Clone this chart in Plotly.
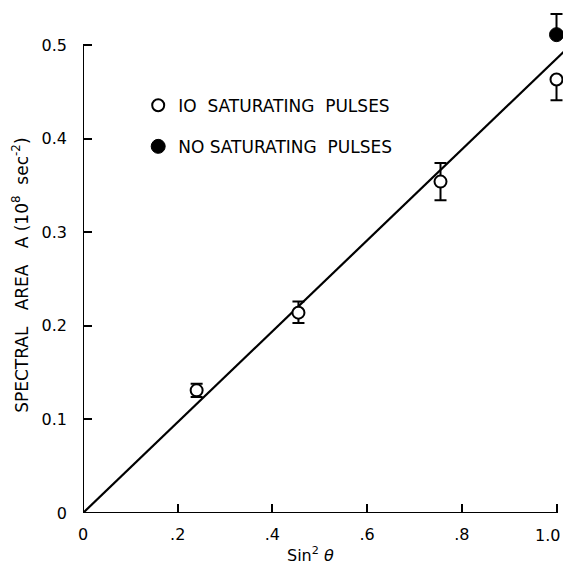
import plotly.graph_objects as go

# Spectral area vs sin^2(theta)
sin2_theta = [0.24, 0.455, 0.755, 1.0]
area_10_pulses = [0.131, 0.214, 0.354, 0.463]
err_10_plus = [0.007, 0.012, 0.020, 0.0]
err_10_minus = [0.007, 0.011, 0.020, 0.022]

sin2_no_pulses = [1.0]
area_no_pulses = [0.511]
err_no_plus = [0.022]
err_no_minus = [0.0]

# straight-line fit through the origin
fit_x = [0.0, 1.02]
fit_y = [0.0, 0.495]

x_ticks = [0, 0.2, 0.4, 0.6, 0.8, 1.0]
x_tick_labels = ["0", ".2", ".4", ".6", ".8", "1.0"]
y_ticks = [0, 0.1, 0.2, 0.3, 0.4, 0.5]
y_tick_labels = ["0", "0.1", "0.2", "0.3", "0.4", "0.5"]

FONT = "DejaVu Sans"
INK = "black"

fig = go.Figure()

fig.add_trace(go.Scatter(
    x=fit_x, y=fit_y, mode="lines",
    line=dict(color=INK, width=2.2), showlegend=False, hoverinfo="skip",
))

fig.add_trace(go.Scatter(
    x=sin2_theta, y=area_10_pulses, mode="markers",
    name="IO  SATURATING  PULSES", legendgroup="a",
    marker=dict(symbol="circle", size=12, color="white",
                line=dict(color=INK, width=2)),
    error_y=dict(type="data", symmetric=False, array=err_10_plus,
                 arrayminus=err_10_minus, color=INK, thickness=2, width=6),
))

fig.add_trace(go.Scatter(
    x=sin2_no_pulses, y=area_no_pulses, mode="markers",
    name="NO SATURATING  PULSES", legendgroup="b",
    marker=dict(symbol="circle", size=14, color=INK,
                line=dict(color=INK, width=1)),
    error_y=dict(type="data", symmetric=False, array=err_no_plus,
                 arrayminus=err_no_minus, color=INK, thickness=2, width=6),
))

# axis lines stop at the last labelled tick
fig.add_shape(type="line", xref="x", yref="y", x0=0, y0=0, x1=x_ticks[-1], y1=0,
              line=dict(color=INK, width=2))
fig.add_shape(type="line", xref="x", yref="y", x0=0, y0=0, x1=0, y1=y_ticks[-1],
              line=dict(color=INK, width=2))

# the last x label sits at the right edge, so it is right-aligned on its tick
fig.update_xaxes(
    range=[0, 1.0137], showgrid=False, zeroline=False, showline=False,
    automargin=False,
    tickvals=x_ticks, ticktext=x_tick_labels[:-1] + [""],
    ticks="inside", ticklen=9, tickwidth=2, tickcolor=INK,
    tickfont=dict(family=FONT, size=16, color=INK), ticklabelstandoff=10,
)
fig.add_annotation(
    text=x_tick_labels[-1], xref="x", yref="paper", x=x_ticks[-1], y=-0.043,
    xanchor="right", yanchor="middle", xshift=5, showarrow=False,
    font=dict(family=FONT, size=16, color=INK),
)
fig.update_yaxes(
    range=[0, 0.548], showgrid=False, zeroline=False, showline=False,
    automargin=False,
    tickvals=y_ticks, ticktext=y_tick_labels,
    ticks="inside", ticklen=9, tickwidth=2, tickcolor=INK,
    tickfont=dict(family=FONT, size=16, color=INK), ticklabelstandoff=15,
)

fig.add_annotation(
    text="SPECTRAL   AREA   A (10<sup>8</sup>  sec<sup>-2</sup>)",
    xref="paper", yref="paper", x=-0.13, y=0.4635, textangle=-90,
    showarrow=False, xanchor="center", yanchor="middle",
    font=dict(family=FONT, size=17, color=INK),
)
fig.add_annotation(
    text="Sin<sup>2</sup> <i>θ</i>",
    xref="paper", yref="paper", x=0.473, y=-0.08,
    showarrow=False, xanchor="center", yanchor="middle",
    font=dict(family=FONT, size=16, color=INK),
)

fig.update_layout(
    width=563, height=566,
    margin=dict(l=83, r=0, t=0, b=53, autoexpand=False),
    paper_bgcolor="white", plot_bgcolor="white",
    showlegend=True,
    legend=dict(x=0.115, y=0.754, xanchor="left", yanchor="middle",
                bgcolor="rgba(0,0,0,0)", tracegroupgap=16,
                font=dict(family=FONT, size=17, color=INK)),
)

fig.write_html("out.html")
